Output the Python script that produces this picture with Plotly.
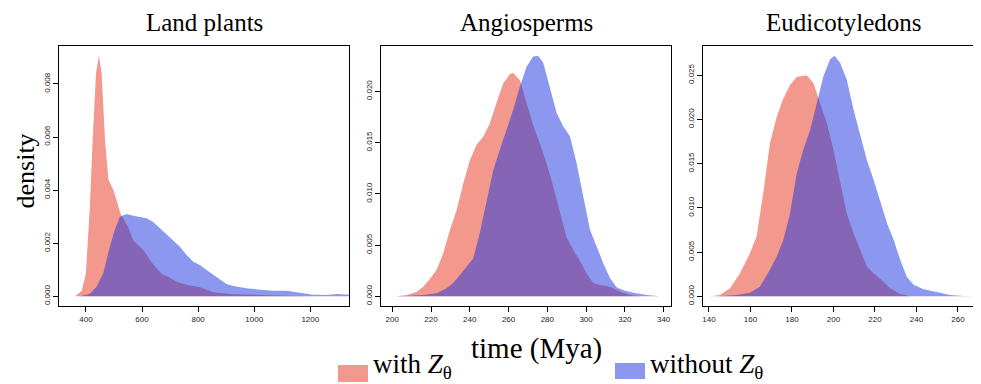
import plotly.graph_objects as go

# ---------------- data ----------------
panels = ["Land plants", "Angiosperms", "Eudicotyledons"]
series_names = ["with <i>Z</i><sub>θ</sub>", "without <i>Z</i><sub>θ</sub>"]

# Land plants
lp_with_x = [361, 385, 400, 414, 424, 436, 446, 456, 468, 480, 498, 509, 524, 551, 569, 604,
             640, 670, 700, 723, 759, 807, 854, 925, 1020, 1139, 1222]
lp_with_y = [0, 0.0002, 0.00087, 0.00337, 0.00589, 0.0084, 0.00906, 0.0084, 0.0059, 0.0044,
             0.0040, 0.00364, 0.0031, 0.0026, 0.0021, 0.00175, 0.0012, 0.00085, 0.0007,
             0.00055, 0.00043, 0.00034, 0.00015, 0.00008, 0.00004, 0.00001, 0]
lp_without_x = [379, 414, 438, 462, 486, 503, 521, 545, 569, 592, 616, 640, 664, 688, 711, 735,
                759, 783, 806, 830, 854, 878, 901, 925, 973, 1020, 1068, 1115, 1163, 1210,
                1258, 1294, 1338]
lp_without_y = [0, 0.0001, 0.00036, 0.00087, 0.0019, 0.0025, 0.0030, 0.0031, 0.00303, 0.00298,
                0.00294, 0.0028, 0.00256, 0.0023, 0.0021, 0.00187, 0.00156, 0.0013, 0.00118,
                0.00099, 0.0008, 0.00062, 0.00046, 0.00039, 0.0003, 0.00025, 0.00021, 0.00021,
                0.00014, 0.00006, 0.00005, 0.00009, 0.00006]

# Angiosperms
an_with_x = [201.4, 207.4, 212.6, 216, 219.4, 222.9, 226.3, 229.8, 233.2, 236.6, 240.1, 243.5,
             247, 250.4, 253.8, 257.3, 260.7, 262.4, 265.9, 269.3, 272.7, 276.2, 279.6, 283.1,
             286.5, 289.9, 293.4, 296.8, 300.3, 303.7, 307.1, 310.6, 314, 317.5, 322.6, 327.8]
an_with_y = [0, 0.0001, 0.00046, 0.00094, 0.0017, 0.0026, 0.0042, 0.0065, 0.0084, 0.011,
             0.0133, 0.0148, 0.0156, 0.0169, 0.0189, 0.0208, 0.0217, 0.0218, 0.0211, 0.019,
             0.0167, 0.0149, 0.013, 0.0107, 0.0081, 0.0058, 0.0045, 0.0035, 0.0022, 0.0013,
             0.0011, 0.001, 0.0008, 0.00046, 0.00013, 0]
an_without_x = [202, 216, 222.9, 228, 231.5, 234.9, 238.4, 241.8, 245.2, 248.7, 252.1, 255.5,
                259, 262.4, 265.9, 269.3, 272.7, 275.3, 277.9, 281.3, 284.8, 288.2, 291.7,
                295.1, 298.5, 302, 305.4, 308.9, 312.3, 315.7, 319.2, 324.3, 331.2, 338]
an_without_y = [0, 0.00013, 0.0003, 0.0008, 0.0013, 0.0021, 0.0029, 0.0037, 0.0062, 0.0094,
                0.0123, 0.0143, 0.0163, 0.0182, 0.0205, 0.0224, 0.0234, 0.02349, 0.0228, 0.0205,
                0.0179, 0.0166, 0.0156, 0.013, 0.0097, 0.0065, 0.0049, 0.0032, 0.0018, 0.0009,
                0.0006, 0.00036, 0.00013, 0]

# Eudicotyledons
eu_with_x = [140.5, 145.3, 150.1, 155, 159.8, 163, 166.2, 169.4, 172.7, 175.9, 179.1, 182.3,
             187.1, 190.4, 193.6, 196.8, 200, 203.2, 206.4, 209.7, 212.9, 216.1, 219.3, 222.5,
             227.4, 232.2, 237]
eu_with_y = [0, 0.00015, 0.0009, 0.0026, 0.0049, 0.0068, 0.0117, 0.0173, 0.0203, 0.0224,
             0.0239, 0.0248, 0.025, 0.0241, 0.0218, 0.0196, 0.0166, 0.0128, 0.0094, 0.0071,
             0.0052, 0.0034, 0.0026, 0.002, 0.0009, 0.00026, 0]
eu_without_x = [144, 153.4, 159.8, 164.6, 169.4, 172.7, 175.9, 179.1, 182.3, 185.5, 188.8, 192,
                195.2, 198.4, 200.5, 203.2, 206.4, 209.7, 212.9, 216.1, 219.3, 222.5, 225.8,
                229, 232.2, 235.4, 238.6, 243.5, 249.9, 256.3, 262.8, 267.6]
eu_without_y = [0, 0.00015, 0.0004, 0.0011, 0.003, 0.0045, 0.0064, 0.0094, 0.0139, 0.0166,
                0.0188, 0.0219, 0.0249, 0.0268, 0.0272, 0.0264, 0.0245, 0.0211, 0.0181, 0.0154,
                0.0132, 0.0109, 0.0083, 0.0064, 0.0041, 0.0022, 0.0013, 0.0008, 0.0005,
                0.00015, 0.00004, 0]

x_ticks = [[400, 600, 800, 1000, 1200],
           [200, 220, 240, 260, 280, 300, 320, 340],
           [140, 160, 180, 200, 220, 240, 260]]
y_ticks = [[0, 0.002, 0.004, 0.006, 0.008],
           [0, 0.005, 0.010, 0.015, 0.020],
           [0, 0.005, 0.010, 0.015, 0.020, 0.025]]

# ---------------- figure ----------------
# the page body has an 8px margin: the figure is placed at (8, 8) in the window
OFF = 8
W, H = 981 - OFF, 384 - OFF
RED = "rgba(229,49,25,0.5)"
BLUE = "rgba(25,49,225,0.5)"
SERIF = "Liberation Serif, DejaVu Serif, serif"
SANS = "Liberation Sans, Arial, sans-serif"


def px(x):  # window pixel -> paper x
    return (x - OFF) / W


def py(y):  # window pixel -> paper y
    return 1 - (y - OFF) / H


data = [(lp_with_x, lp_with_y, lp_without_x, lp_without_y),
        (an_with_x, an_with_y, an_without_x, an_without_y),
        (eu_with_x, eu_with_y, eu_without_x, eu_without_y)]

x_dom_px = [(59, 349), (381, 671), (703.3, 981)]
y_dom_px = (46, 306)
x_ranges = [[304, 1338], [194.2, 343.8], [137.3, 271.1]]
y_ranges = [[-0.000366, 0.00943], [-0.00094, 0.02443], [-0.00109, 0.0283]]

fig = go.Figure()
layout = dict(width=W, height=H, margin=dict(l=0, r=0, t=0, b=0),
              paper_bgcolor="white", plot_bgcolor="white", showlegend=False)

annotations = []
for i, (wx, wy, ox, oy) in enumerate(data):
    xa = "x" if i == 0 else f"x{i+1}"
    ya = "y" if i == 0 else f"y{i+1}"
    fig.add_trace(go.Scatter(x=wx, y=wy, xaxis=xa, yaxis=ya, mode="lines", fill="tozeroy",
                             fillcolor=RED, line=dict(width=0, color=RED),
                             name="with Zθ", hoverinfo="skip"))
    fig.add_trace(go.Scatter(x=ox, y=oy, xaxis=xa, yaxis=ya, mode="lines", fill="tozeroy",
                             fillcolor=BLUE, line=dict(width=0, color=BLUE),
                             name="without Zθ", hoverinfo="skip"))
    xk = "xaxis" if i == 0 else f"xaxis{i+1}"
    yk = "yaxis" if i == 0 else f"yaxis{i+1}"
    x0, x1 = x_dom_px[i]
    layout[xk] = dict(domain=[px(x0), min(px(x1), 1.0)], anchor=ya, range=x_ranges[i],
                      showgrid=False, zeroline=False, showline=True, linecolor="black",
                      linewidth=1, mirror=True, ticks="outside", ticklen=5, tickwidth=1,
                      tickcolor="black", tickvals=x_ticks[i],
                      ticktext=[str(v) for v in x_ticks[i]],
                      tickfont=dict(family=SANS, size=8, color="#222"))
    layout[yk] = dict(domain=[py(y_dom_px[1]), py(y_dom_px[0])], anchor=xa,
                      range=y_ranges[i], showgrid=False, zeroline=False, showline=True,
                      linecolor="black", linewidth=1, mirror=(i < 2), ticks="outside",
                      ticklen=5, tickwidth=1, tickcolor="black", tickvals=y_ticks[i],
                      ticktext=[f"{v:.3f}" for v in y_ticks[i]], tickangle=-90,
                      tickfont=dict(family=SANS, size=8, color="#222"))
    cx = (x0 + (x1 if i < 2 else 985)) / 2
    annotations.append(dict(text=panels[i], x=px(cx), y=py(22), xref="paper", yref="paper",
                            showarrow=False, xanchor="center", yanchor="middle",
                            font=dict(family=SERIF, size=25, color="black")))

annotations.append(dict(text="time (Mya)", x=px(536), y=py(348), xref="paper", yref="paper",
                        showarrow=False, xanchor="center", yanchor="middle",
                        font=dict(family=SERIF, size=29, color="black")))
annotations.append(dict(text="density", x=px(OFF), y=py(171), xref="paper", yref="paper",
                        showarrow=False, xanchor="left", yanchor="middle", textangle=-90,
                        font=dict(family=SERIF, size=26, color="black")))

# legend (swatches + labels)
legend_items = [(338, 365, 382, series_names[0], RED),
                (615, 363, 379, series_names[1], BLUE)]
shapes = []
for (sx, sy0, sy1, label, col) in legend_items:
    shapes.append(dict(type="rect", xref="paper", yref="paper", x0=px(sx), x1=px(sx + 30),
                       y0=py(sy1), y1=py(sy0), fillcolor=col, line=dict(width=0)))
    annotations.append(dict(text=label, x=px(sx + 33), y=py(min((sy0 + sy1) / 2 - 3, 366)),
                            xref="paper", yref="paper", showarrow=False, xanchor="left",
                            yanchor="middle", font=dict(family=SERIF, size=27, color="black")))

layout["annotations"] = annotations
layout["shapes"] = shapes
fig.update_layout(**layout)
fig.write_html("out.html")
